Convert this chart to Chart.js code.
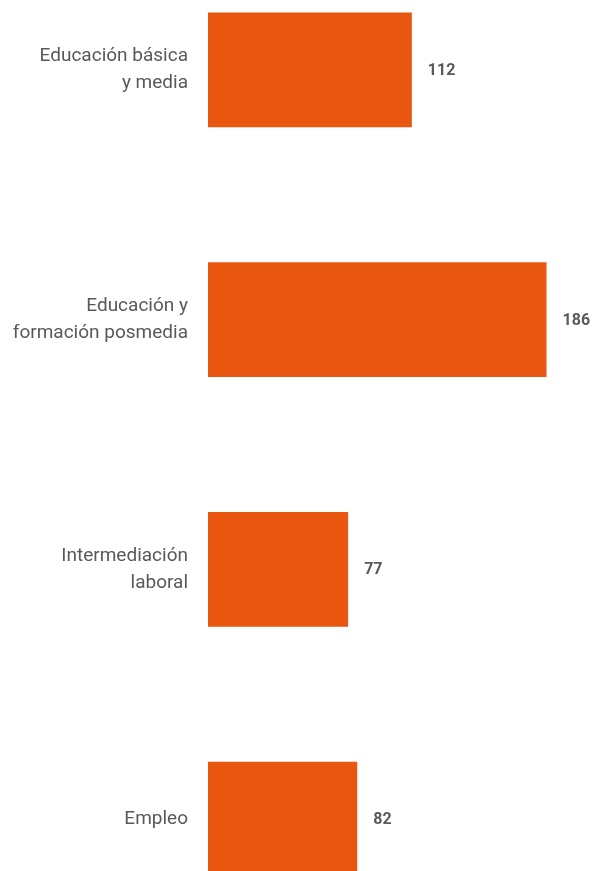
<!DOCTYPE html>
<html>
<head>
<meta charset="utf-8">
<script src="https://cdn.jsdelivr.net/npm/chart.js@4"></script>
<style>
  body { margin: 0; background: #fff; }
  #wrap { position: relative; width: 595px; height: 871px; overflow: hidden; }
  #inner { position: absolute; left: 0; top: -55px; width: 595px; height: 999px; }
</style>
</head>
<body>
<div id="wrap"><div id="inner"><canvas id="chart"></canvas></div></div>
<script>
var categories = [
  ["Educación básica", "y media"],
  ["Educación y", "formación posmedia"],
  ["Intermediación", "laboral"],
  "Empleo"
];
var values = [112, 186, 77, 82];
var barColor = "#e95610";
var textColor = "#58595b";

// value labels to the right of each bar
var valueLabels = {
  id: "valueLabels",
  afterDatasetsDraw: function(chart) {
    var ctx = chart.ctx;
    var meta = chart.getDatasetMeta(0);
    ctx.save();
    ctx.font = "bold 16px Roboto";
    ctx.fillStyle = textColor;
    ctx.textAlign = "left";
    ctx.textBaseline = "middle";
    meta.data.forEach(function(bar, i) {
      ctx.fillText(String(values[i]), bar.x + 16, bar.y + 1);
    });
    ctx.restore();
  }
};

new Chart("chart", {
  type: "bar",
  data: {
    labels: categories,
    datasets: [{
      data: values,
      backgroundColor: barColor,
      barPercentage: 0.46,
      categoryPercentage: 1
    }]
  },
  options: {
    indexAxis: "y",
    responsive: true,
    maintainAspectRatio: false,
    animation: false,
    layout: { padding: { right: 23, top: 0, bottom: 0 } },
    plugins: {
      legend: { display: false },
      tooltip: { enabled: false }
    },
    scales: {
      x: {
        display: false,
        min: 0,
        max: 200
      },
      y: {
        grid: { display: false, drawTicks: false },
        border: { display: false },
        afterFit: function(scale) {
          scale.width = 208;
          scale.paddingTop = 0;
          scale.paddingBottom = 0;
        },
        ticks: {
          padding: 20,
          color: textColor,
          font: { family: "Roboto", size: 19, lineHeight: 1.42 }
        }
      }
    }
  },
  plugins: [valueLabels]
});
</script>
</body>
</html>
